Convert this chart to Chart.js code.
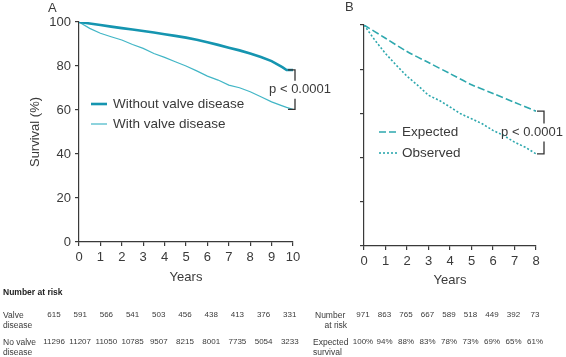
<!DOCTYPE html>
<html><head><meta charset="utf-8">
<script src="https://cdn.jsdelivr.net/npm/chart.js@4/dist/chart.umd.min.js"></script>
<style>
html,body{margin:0;padding:0;background:#fff;width:566px;height:357px;overflow:hidden;position:relative;font-family:"Liberation Sans",Arial,sans-serif;}
#cA{position:absolute;left:0;top:0;}
#cB{position:absolute;left:340px;top:0;}
.t{position:absolute;color:#3a3a3a;font-size:8px;white-space:nowrap;line-height:10px;}
.c{transform:translateX(-50%);text-align:center;}
.b{font-weight:bold;font-size:8.5px;color:#222;}
.l{font-size:8.5px;}
</style></head>
<body>
<canvas id="cA" width="340" height="290"></canvas>
<canvas id="cB" width="226" height="295"></canvas>
<div id="tbl"></div>
<script>
// ---------- Panel A data ----------
const yearsA        = [0,0.5,1,1.5,2,2.5,3,3.5,4,4.5,5,5.5,6,6.5,7,7.5,8,8.5,9,9.5,9.7,10];
const withoutValve  = [100,99.3,98.6,97.9,97.2,96.6,95.9,95.2,94.4,93.7,92.9,91.9,90.8,89.6,88.3,87.1,85.7,84.1,82.2,79.5,78.2,78.2];
const withValve     = [100,97.1,94.9,93.3,91.8,89.8,88.0,85.7,83.9,81.9,80.0,77.8,75.4,73.6,71.3,70.1,68.3,66.0,63.7,61.9,61.2,60.3];
const riskYearsA    = [0,1,2,3,4,5,6,7,8,9];
const valveAtRisk   = [615,591,566,541,503,456,438,413,376,331];
const noValveAtRisk = [11296,11207,11050,10785,9507,8215,8001,7735,5054,3233];

// ---------- Panel B data ----------
const yearsB        = [0,0.5,1,1.5,2,2.5,3,3.5,4,4.5,5,5.5,6,6.5,7,7.5,8];
const observed      = [100,93.2,87.1,81.8,76.8,72.7,68.2,65.9,62.9,59.8,57.6,55.3,52.3,50.0,47.0,44.7,41.7];
const yearsExp      = [0,1,2,3,4,5,6,7,8];
const expected      = [100,94,88,83,78,73,69,65,61];
const numberAtRiskB = [971,863,765,667,589,518,449,392,73];

const FONT = '"Liberation Sans", Arial, sans-serif';
const AX = '#3a3a3a';
Chart.defaults.font.family = FONT;
Chart.defaults.color = AX;

const pts = (xs, ys) => xs.map((x, i) => ({x, y: ys[i]}));

const annot = {
  id: 'annot',
  afterDatasetsDraw(chart, args, o) {
    const {ctx, chartArea: ca, scales: {x, y}} = chart;
    ctx.save();
    ctx.fillStyle = AX;
    ctx.textBaseline = 'middle';
    ctx.textAlign = 'left';
    ctx.font = '13px ' + FONT;
    ctx.fillText(o.letter.text, o.letter.x, o.letter.y);
    // legend
    o.legend.forEach(it => {
      const ds = chart.data.datasets[it.ds];
      ctx.strokeStyle = ds.borderColor;
      ctx.lineWidth = ds.borderWidth;
      ctx.setLineDash(ds.borderDash || []);
      ctx.beginPath();
      ctx.moveTo(o.legendX0, it.y);
      ctx.lineTo(o.legendX1, it.y);
      ctx.stroke();
      ctx.setLineDash([]);
      ctx.font = '13.5px ' + FONT;
      ctx.fillStyle = AX;
      ctx.fillText(ds.label, o.legendTx, it.y);
    });
    // bracket
    const d0 = chart.data.datasets[0].data, d1 = chart.data.datasets[1].data;
    const yTop = y.getPixelForValue(d0[d0.length - 1].y);
    const yBot = y.getPixelForValue(d1[d1.length - 1].y);
    const bx = ca.right + o.bracketDx;
    const mid = (yTop + yBot) / 2;
    ctx.strokeStyle = '#333';
    ctx.lineWidth = 1.3;
    ctx.beginPath();
    ctx.moveTo(bx - 7, yTop); ctx.lineTo(bx, yTop); ctx.lineTo(bx, mid - o.gap);
    ctx.moveTo(bx, mid + o.gap); ctx.lineTo(bx, yBot); ctx.lineTo(bx - 7, yBot);
    ctx.stroke();
    ctx.font = '13px ' + FONT;
    ctx.fillStyle = AX;
    ctx.textAlign = 'center';
    ctx.fillText('p < 0.0001', bx + o.textDx, mid);
    ctx.restore();
  }
};

const baseScale = (opts) => Object.assign({
  type: 'linear',
  border: {color: AX, width: 1.2},
  grid: {drawOnChartArea: false, drawTicks: true, tickLength: 4, color: AX, lineWidth: 1.2},
}, opts);

// ---------- Chart A ----------
new Chart(document.getElementById('cA'), {
  type: 'line',
  data: {datasets: [
    {label: 'Without valve disease', data: pts(yearsA, withoutValve), borderColor: '#1595b0', borderWidth: 2.6, pointRadius: 0, tension: 0},
    {label: 'With valve disease', data: pts(yearsA, withValve), borderColor: '#42b6c6', borderWidth: 1.2, pointRadius: 0, tension: 0}
  ]},
  options: {
    responsive: false, animation: false, devicePixelRatio: 1,
    layout: {padding: {top: 22, right: 47, left: 0, bottom: 0}},
    plugins: {legend: {display: false}, tooltip: {enabled: false},
      annot: {letter: {text: 'A', x: 48, y: 8}, legendX0: 91, legendX1: 107, legendTx: 113,
        legend: [{ds: 0, y: 104}, {ds: 1, y: 124}], bracketDx: 2, gap: 9, textDx: 5}},
    scales: {
      x: baseScale({min: 0, max: 10,
        ticks: {stepSize: 1, font: {size: 13}, color: AX, padding: 4, maxRotation: 0},
        title: {display: true, text: 'Years', font: {size: 13}, color: AX, padding: {top: 0, bottom: 5}},
        afterFit: s => { s.height = 48; }}),
      y: baseScale({min: 0, max: 100,
        ticks: {stepSize: 20, font: {size: 13}, color: AX, padding: 4},
        title: {display: true, text: 'Survival (%)', font: {size: 13}, color: AX, padding: {top: 28, bottom: 0}},
        afterFit: s => { s.width = 79; }})
    }
  },
  plugins: [annot]
});

// ---------- Chart B ----------
const chartB = new Chart(document.getElementById('cB'), {
  type: 'line',
  data: {datasets: [
    {label: 'Expected', data: pts(yearsExp, expected), borderColor: '#2ea8ae', borderWidth: 1.6, borderDash: [7, 3], pointRadius: 0, tension: 0.3},
    {label: 'Observed', data: pts(yearsB, observed), borderColor: '#2ea8ae', borderWidth: 1.6, borderDash: [2, 2], pointRadius: 0, tension: 0}
  ]},
  options: {
    responsive: false, animation: false, devicePixelRatio: 1,
    layout: {padding: {top: 25, right: 30, left: 0, bottom: 0}},
    plugins: {legend: {display: false}, tooltip: {enabled: false},
      annot: {letter: {text: 'B', x: 5, y: 7}, legendX0: 39, legendX1: 57, legendTx: 62,
        legend: [{ds: 0, y: 132}, {ds: 1, y: 153}], bracketDx: 8, gap: 9, textDx: -12}},
    scales: {
      x: baseScale({min: 0, max: 8,
        ticks: {stepSize: 1, font: {size: 13}, color: AX, padding: 4, maxRotation: 0},
        title: {display: true, text: 'Years', font: {size: 13}, color: AX, padding: {top: 0, bottom: 6.5}},
        afterFit: s => { s.height = 49; }}),
      y: baseScale({min: 0, max: 100,
        ticks: {stepSize: 20, display: false},
        afterFit: s => { s.width = 24; }})
    }
  },
  plugins: [annot]
});

// ---------- Number-at-risk tables ----------
const tbl = document.getElementById('tbl');
function put(text, x, y, cls) {
  const d = document.createElement('div');
  d.className = 't ' + (cls || '');
  d.style.left = x + 'px';
  d.style.top = (y - 5) + 'px';
  d.innerHTML = text;
  tbl.appendChild(d);
}
put('Number at risk', 3, 292, 'b');
put('Valve<br>disease', 3, 315, 'l');
put('No valve<br>disease', 3, 342, 'l');
riskYearsA.forEach((yr, i) => {
  const cx = 54 + 26.2 * yr;
  put(String(valveAtRisk[i]), cx, 315, 'c');
  put(String(noValveAtRisk[i]), cx, 342, 'c');
});
put('Number<br>&nbsp;&nbsp;&nbsp;&nbsp;at risk', 315, 315, 'l');
put('Expected<br>survival', 313, 342, 'l');
yearsExp.forEach((yr, i) => {
  const cx = 340 + chartB.scales.x.getPixelForValue(yr) - 1;
  put(String(numberAtRiskB[i]), cx, 315, 'c');
  put(expected[i] + '%', cx, 342, 'c');
});
</script>
</body></html>
